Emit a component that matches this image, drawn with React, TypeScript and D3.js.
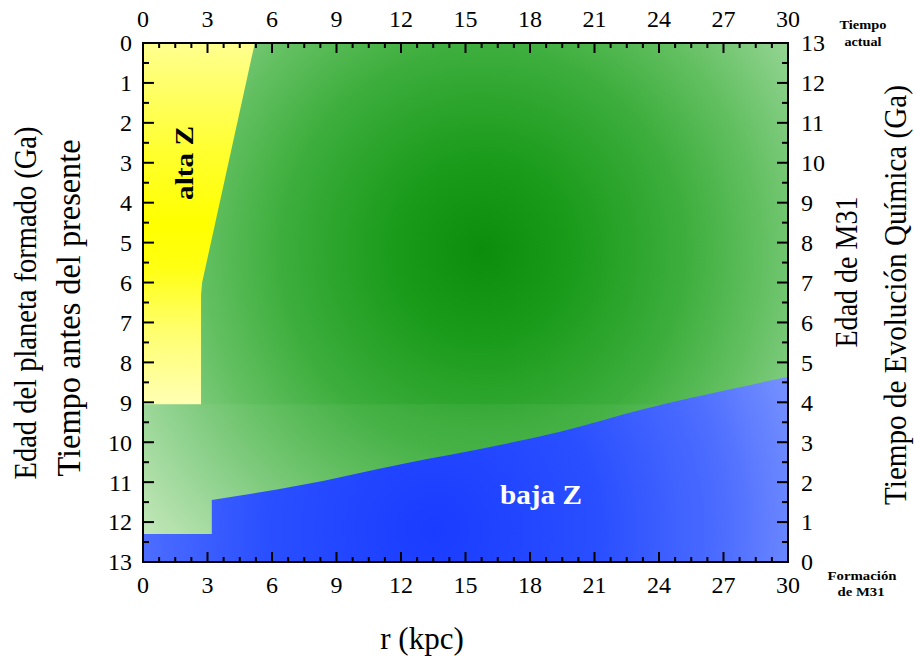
import React from "react";
import * as d3 from "d3";

const xTicks = [0, 3, 6, 9, 12, 15, 18, 21, 24, 27, 30];
const yTicksLeft = [0, 1, 2, 3, 4, 5, 6, 7, 8, 9, 10, 11, 12, 13];
const yTicksRight = [13, 12, 11, 10, 9, 8, 7, 6, 5, 4, 3, 2, 1, 0];

// Boundary of the high-metallicity (yellow) region: [r kpc, time Ga]
const yellowBoundary: [number, number][] = [
  [5.2, 0],
  [2.75, 6.0],
  [2.7, 6.3],
  [2.7, 9.05],
];
const yellowSplit = 9.05;

// Boundary of the low-metallicity (blue) region
const blueInner: [number, number][] = [
  [0, 12.3],
  [3.2, 12.3],
];
const blueBoundary: [number, number][] = [
  [3.2, 11.45],
  [7.3, 11.08],
  [12, 10.55],
  [16.6, 10.07],
  [19.4, 9.74],
  [23.3, 9.17],
  [27.1, 8.7],
  [30, 8.36],
];

const W = 914;
const H = 656;
const L = 143, R = 788, T = 43, B = 562;

export default function App() {
  const x = d3.scaleLinear().domain([0, 30]).range([L, R]);
  const y = d3.scaleLinear().domain([0, 13]).range([T, B]);
  const yR = d3.scaleLinear().domain([0, 13]).range([B, T]);

  const line = d3.line<[number, number]>().x((d) => x(d[0])).y((d) => y(d[1]));
  const smooth = d3.line<[number, number]>().x((d) => x(d[0])).y((d) => y(d[1])).curve(d3.curveMonotoneX);

  const yellowPoly: [number, number][] = [[0, 0], ...yellowBoundary, [0, yellowSplit]];
  const bluePath =
    (line(blueInner) as string) +
    (smooth(blueBoundary) as string).replace(/^M/, "L") +
    (line([[30, 13], [0, 13]]) as string).replace(/^M/, "L") +
    "Z";

  const xMinor = d3.range(0, 30.001, 0.75).filter((v) => Math.abs(v / 3 - Math.round(v / 3)) > 1e-6);
  const yMinor = d3.range(0.5, 13, 1);

  const serif = "'Liberation Serif', 'DejaVu Serif', serif";
  const tickFs = 24;

  return (
    <svg width={W} height={H} style={{ position: "absolute", left: 0, top: 0, background: "#fff" }}>
      <defs>
        <radialGradient id="gGreen" gradientUnits="userSpaceOnUse" cx={x(15.8)} cy={y(5.2)} r={450}>
          <stop offset="0" stopColor="#0c8e0c" />
          <stop offset="0.2" stopColor="#1a9b1a" />
          <stop offset="0.45" stopColor="#3dae3d" />
          <stop offset="0.62" stopColor="#62bf60" />
          <stop offset="0.78" stopColor="#8ad089" />
          <stop offset="0.92" stopColor="#b0e0a8" />
          <stop offset="1" stopColor="#c4e8ba" />
        </radialGradient>
        <linearGradient id="gYellow" gradientUnits="userSpaceOnUse" x1={0} y1={y(0)} x2={0} y2={y(yellowSplit)}>
          <stop offset="0" stopColor="#ffff90" />
          <stop offset="0.3" stopColor="#ffff30" />
          <stop offset="0.5" stopColor="#ffff00" />
          <stop offset="0.62" stopColor="#ffff12" />
          <stop offset="0.8" stopColor="#ffff70" />
          <stop offset="1" stopColor="#ffffb4" />
        </linearGradient>
        <radialGradient id="gBlue" gradientUnits="userSpaceOnUse" cx={x(13.5)} cy={y(12.2)} r={420}>
          <stop offset="0" stopColor="#1a3cff" />
          <stop offset="0.4" stopColor="#2a4fff" />
          <stop offset="0.7" stopColor="#4e6eff" />
          <stop offset="1" stopColor="#86a0ff" />
        </radialGradient>
        <clipPath id="plotClip">
          <rect x={L} y={T} width={R - L} height={B - T} />
        </clipPath>
      </defs>

      <g clipPath="url(#plotClip)">
        <rect x={L} y={T} width={R - L} height={B - T} fill="url(#gGreen)" />
        <rect x={L} y={y(yellowSplit)} width={R - L} height={B - y(yellowSplit)} fill="#ffffff" opacity={0.05} />
        <path d={line(yellowPoly) + "Z"} fill="url(#gYellow)" />
        <path d={bluePath} fill="url(#gBlue)" />
      </g>

      {/* frame */}
      <rect x={L} y={T} width={R - L} height={B - T} fill="none" stroke="#000" strokeWidth={2} />

      {/* x ticks top & bottom */}
      {xTicks.map((v) => (
        <g key={"xt" + v}>
          <line x1={x(v)} x2={x(v)} y1={B} y2={B - 10} stroke="#000" strokeWidth={2} />
          <line x1={x(v)} x2={x(v)} y1={T} y2={T + 10} stroke="#000" strokeWidth={2} />
          <text x={x(v)} y={593} textAnchor="middle" fontFamily={serif} fontSize={tickFs}>{v}</text>
          <text x={x(v)} y={27} textAnchor="middle" fontFamily={serif} fontSize={tickFs}>{v}</text>
        </g>
      ))}
      {xMinor.map((v) => (
        <g key={"xm" + v}>
          <line x1={x(v)} x2={x(v)} y1={B} y2={B - 5} stroke="#000" strokeWidth={2} />
          <line x1={x(v)} x2={x(v)} y1={T} y2={T + 5} stroke="#000" strokeWidth={2} />
        </g>
      ))}

      {/* y ticks left */}
      {yTicksLeft.map((v) => (
        <g key={"yl" + v}>
          <line x1={L} x2={L + 11} y1={y(v)} y2={y(v)} stroke="#000" strokeWidth={2} />
          <text x={132} y={y(v)} dy="0.35em" textAnchor="end" fontFamily={serif} fontSize={tickFs}>{v}</text>
        </g>
      ))}
      {yTicksRight.map((v) => (
        <g key={"yr" + v}>
          <line x1={R} x2={R - 11} y1={yR(v)} y2={yR(v)} stroke="#000" strokeWidth={2} />
          <text x={801} y={yR(v)} dy="0.35em" textAnchor="start" fontFamily={serif} fontSize={tickFs}>{v}</text>
        </g>
      ))}
      {yMinor.map((v) => (
        <g key={"ym" + v}>
          <line x1={L} x2={L + 6} y1={y(v)} y2={y(v)} stroke="#000" strokeWidth={2} />
          <line x1={R} x2={R - 6} y1={y(v)} y2={y(v)} stroke="#000" strokeWidth={2} />
        </g>
      ))}

      {/* axis titles */}
      <text x={422} y={649} textAnchor="middle" fontFamily={serif} fontSize={31}>r (kpc)</text>
      <text transform={`translate(36,303) rotate(-90)`} textAnchor="middle" fontFamily={serif} fontSize={31}
        textLength={353} lengthAdjust="spacingAndGlyphs">Edad del planeta formado (Ga)</text>
      <text transform={`translate(80,308) rotate(-90)`} textAnchor="middle" fontFamily={serif} fontSize={33}
        textLength={337} lengthAdjust="spacingAndGlyphs">Tiempo antes del presente</text>
      <text transform={`translate(857,272) rotate(-90)`} textAnchor="middle" fontFamily={serif} fontSize={32}
        textLength={151} lengthAdjust="spacingAndGlyphs">Edad de M31</text>
      <text transform={`translate(906,295) rotate(-90)`} textAnchor="middle" fontFamily={serif} fontSize={31}
        textLength={420} lengthAdjust="spacingAndGlyphs">Tiempo de Evolución Química (Ga)</text>

      {/* corner notes */}
      <text x={863} y={29} textAnchor="middle" fontFamily={serif} fontSize={12} fontWeight="bold"
        textLength={47} lengthAdjust="spacingAndGlyphs">Tiempo</text>
      <text x={863} y={46} textAnchor="middle" fontFamily={serif} fontSize={12} fontWeight="bold"
        textLength={37} lengthAdjust="spacingAndGlyphs">actual</text>
      <text x={862} y={580} textAnchor="middle" fontFamily={serif} fontSize={13} fontWeight="bold"
        textLength={69} lengthAdjust="spacingAndGlyphs">Formación</text>
      <text x={861} y={596} textAnchor="middle" fontFamily={serif} fontSize={13} fontWeight="bold"
        textLength={47} lengthAdjust="spacingAndGlyphs">de M31</text>

      {/* region labels */}
      <text transform={`translate(193,163) rotate(-90)`} textAnchor="middle" fontFamily={serif} fontSize={25}
        fontWeight="bold" textLength={74} lengthAdjust="spacingAndGlyphs">alta Z</text>
      <text x={500} y={504} textAnchor="start" fontFamily={serif} fontSize={27} fontWeight="bold" fill="#ffffff"
        textLength={82} lengthAdjust="spacingAndGlyphs">baja Z</text>
    </svg>
  );
}
